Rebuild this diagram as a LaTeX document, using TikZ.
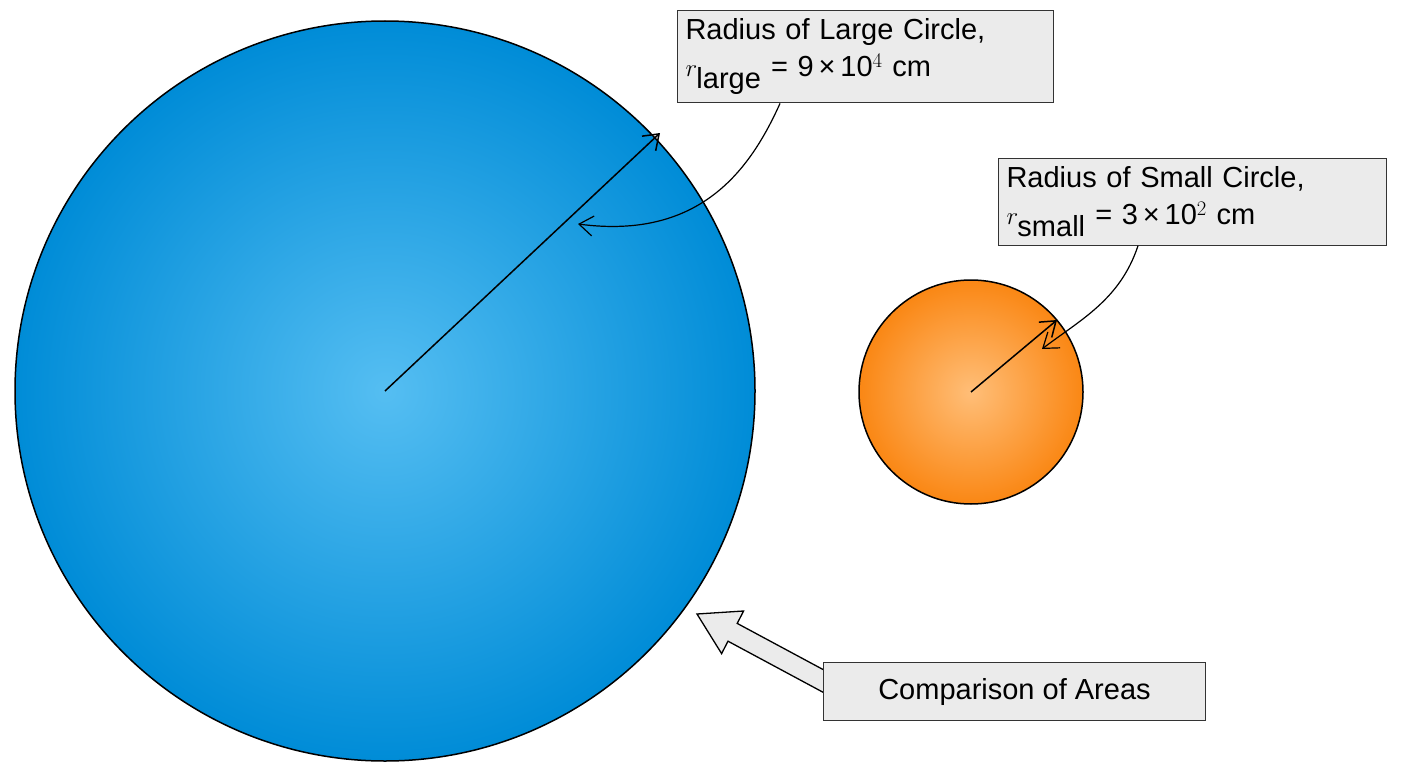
\documentclass[tikz,border=0pt]{standalone}
\usepackage{fontspec}
\setmainfont{Liberation Sans}
\usetikzlibrary{arrows.meta}
\begin{document}
\begin{tikzpicture}[x=1pt,y=-1pt,
  lbl/.style={draw=black!80,fill=black!8,line width=1pt,align=left,font=\fontsize{29}{37}\selectfont,inner sep=8pt},
  rad/.style={line width=1.5pt,-{Straight Barb[length=14pt,width=20pt]}},
  lead/.style={line width=1.2pt,-{Straight Barb[length=14pt,width=20pt]}}]
\useasboundingbox (0,0) rectangle (1408,768);
\definecolor{bin}{RGB}{85,190,242}\definecolor{bout}{RGB}{0,140,215}
\definecolor{oin}{RGB}{255,190,120}\definecolor{oout}{RGB}{250,135,20}
\coordinate (cL) at (385,391);
\coordinate (cS) at (971,392);
\shade[inner color=bin,outer color=bout] (cL) circle[radius=370];
\draw[line width=1.5pt] (cL) circle[radius=370];
\shade[inner color=oin,outer color=oout] (cS) circle[radius=112];
\draw[line width=1.5pt] (cS) circle[radius=112];
\coordinate (eL) at (660,133);
\coordinate (eS) at (1057,320);
\draw[rad] (cL) -- (eL);
\draw[rad] (cS) -- (eS);
\node[lbl,anchor=north west,text width=360pt] (bL) at (677,10) {Radius of Large Circle,\\ $r_{\textrm{large}}$ = 9\,×\,10$^{4}$ cm};
\node[lbl,anchor=north west,text width=372pt] (bS) at (998,158) {Radius of Small Circle,\\ $r_{\textrm{small}}$ = 3\,×\,10$^{2}$ cm};
\coordinate (tL) at (578,224);
\coordinate (tS) at (1042,349);
\draw[lead] (bL.south west) ++(103,0) .. controls (750,170) and (700,240) .. (tL);
\draw[lead] (bS.south west) ++(140,0) .. controls (1120,300) and (1080,320) .. (tS);
\draw[line width=1.3pt,fill=black!8,line join=miter]
 (844.6,681.1) -- (737.2,623.4) -- (743.6,611) -- (697,614) -- (721.6,653.6) -- (728,641.2) -- (835.4,698.9) -- cycle;
\node[lbl,anchor=north west,minimum width=382pt,minimum height=58pt,inner sep=4pt] (bC) at (823,662) {Comparison of Areas};
\end{tikzpicture}
\end{document}
